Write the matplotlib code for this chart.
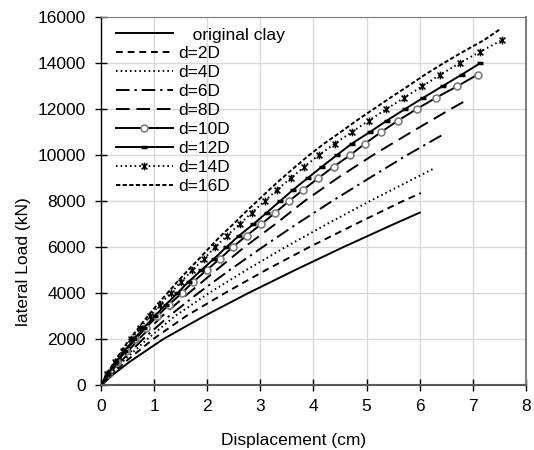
import matplotlib
matplotlib.use("Agg")
import matplotlib.pyplot as plt
from matplotlib.path import Path

plt.rcParams['font.family'] = ['Liberation Sans', 'DejaVu Sans']
plt.rcParams['font.size'] = 12

# load levels (kN) used for the marked curves
load_steps = [0, 500, 1000, 1500, 2000, 2500, 3000, 3500, 4000, 4500, 5000,
              5500, 6000, 6500, 7000, 7500, 8000, 8500, 9000, 9500, 10000,
              10500, 11000, 11500, 12000, 12500, 13000, 13500, 14000, 14500,
              15000, 15500]

load_orig = [0, 500, 1000, 2000, 3000, 4000, 5000, 6000, 7000, 7500]
disp_orig = [0, 0.25, 0.53, 1.17, 1.94, 2.77, 3.65, 4.56, 5.51, 6.00]

load_2d = [0, 1000, 2000, 3000, 4000, 5000, 6000, 7000, 8000, 8350]
disp_2d = [0, 0.45, 0.98, 1.60, 2.33, 3.10, 3.92, 4.79, 5.68, 6.02]

load_4d = [0, 1000, 2000, 3000, 4000, 5000, 6000, 7000, 8000, 9000, 9450]
disp_4d = [0, 0.40, 0.87, 1.39, 2.03, 2.73, 3.47, 4.25, 5.06, 5.91, 6.29]

load_6d = [0, 1000, 2000, 3000, 4000, 5000, 6000, 7000, 8000, 9000, 10000, 10950]
disp_6d = [0, 0.36, 0.79, 1.28, 1.83, 2.42, 3.04, 3.68, 4.35, 5.05, 5.76, 6.48]

load_8d = [0, 1000, 2000, 3000, 4000, 5000, 6000, 7000, 8000, 9000, 10000,
           11000, 12000, 12400]
disp_8d = [0, 0.33, 0.71, 1.15, 1.65, 2.17, 2.70, 3.28, 3.83, 4.45, 5.12,
           5.84, 6.58, 6.89]

disp_10d = [0, 0.14, 0.30, 0.47, 0.65, 0.85, 1.06, 1.28, 1.52, 1.74, 1.99,
            2.24, 2.48, 2.74, 3.02, 3.28, 3.54, 3.81, 4.09, 4.38, 4.69, 4.97,
            5.27, 5.59, 5.94, 6.31, 6.71, 7.09]
disp_12d = [0, 0.13, 0.28, 0.45, 0.62, 0.81, 1.01, 1.22, 1.44, 1.65, 1.89,
            2.13, 2.36, 2.60, 2.87, 3.12, 3.37, 3.62, 3.89, 4.16, 4.44, 4.72,
            5.06, 5.38, 5.72, 6.07, 6.43, 6.79, 7.14]
disp_14d = [0, 0.12, 0.26, 0.41, 0.57, 0.74, 0.92, 1.11, 1.31, 1.51, 1.72,
            1.94, 2.15, 2.37, 2.61, 2.84, 3.08, 3.32, 3.57, 3.83, 4.10, 4.40,
            4.72, 5.04, 5.37, 5.71, 6.05, 6.39, 6.75, 7.14, 7.55]
disp_16d = [0, 0.11, 0.25, 0.39, 0.54, 0.71, 0.88, 1.06, 1.25, 1.44, 1.64,
            1.85, 2.05, 2.26, 2.49, 2.71, 2.94, 3.17, 3.41, 3.66, 3.92, 4.20,
            4.51, 4.81, 5.13, 5.45, 5.78, 6.10, 6.45, 6.82, 7.21, 7.53]

x_ticks = [0, 1, 2, 3, 4, 5, 6, 7, 8]
y_ticks = [0, 2000, 4000, 6000, 8000, 10000, 12000, 14000, 16000]

# asterisk marker: an x with a vertical bar through it
star = Path([(-1, -1), (1, 1), (-1, 1), (1, -1), (0, -1.3), (0, 1.3)],
            [Path.MOVETO, Path.LINETO] * 3)

fig = plt.figure(figsize=(5.34, 4.5), dpi=100)
ax = fig.add_axes([0.189, 0.144, 0.796, 0.818])

lw = 1.4
ax.plot(disp_orig, load_orig, color='black', lw=lw, label='   original clay')
ax.plot(disp_2d, load_2d, color='black', lw=lw, ls=(0, (3.5, 2.5)), label='d=2D')
ax.plot(disp_4d, load_4d, color='black', lw=lw, ls=(0, (0.8, 1.6)), label='d=4D')
ax.plot(disp_6d, load_6d, color='black', lw=lw, ls=(0, (7, 2.5, 1.2, 2.5)), label='d=6D')
ax.plot(disp_8d, load_8d, color='black', lw=lw, ls=(0, (7, 3.5)), label='d=8D')
ax.plot(disp_10d, load_steps[:len(disp_10d)], color='black', lw=lw,
        marker='o', ms=5, mfc='white', mec='#7f7f7f', mew=1.2, label='d=10D')
ax.plot(disp_12d, load_steps[:len(disp_12d)], color='black', lw=lw,
        marker='_', ms=5, mew=2.5, mec='black', label='d=12D')
ax.plot(disp_14d, load_steps[:len(disp_14d)], color='black', lw=lw,
        ls=(0, (0.8, 1.6)), marker=star, ms=5.5, mfc='none', mec='black',
        mew=1.1, label='d=14D')
ax.plot(disp_16d, load_steps[:len(disp_16d)], color='black', lw=lw,
        ls=(0, (2.2, 1.2)), label='d=16D')

ax.set_xlim(0, 8)
ax.set_ylim(0, 16000)
ax.set_xticks(x_ticks)
ax.set_yticks(y_ticks)
ax.grid(True, color='#d9d9d9', lw=1)
ax.set_axisbelow(True)

ax.tick_params(axis='both', direction='inout', length=8, width=1,
               color='black', labelsize=12.5)
ax.tick_params(axis='x', pad=6)
ax.tick_params(axis='y', pad=7)

ax.spines['left'].set_color('black')
ax.spines['left'].set_linewidth(1)
ax.spines['bottom'].set_color('#595959')
ax.spines['bottom'].set_linewidth(1.5)
ax.spines['top'].set_color('#7f7f7f')
ax.spines['top'].set_linewidth(0.8)
ax.spines['right'].set_color('#7f7f7f')
ax.spines['right'].set_linewidth(1.5)

ax.set_xlabel('Displacement (cm)', fontsize=12.5)
ax.set_ylabel('lateral Load (kN)', fontsize=12.5)
ax.xaxis.set_label_coords(0.454, -0.149)
ax.xaxis.label.set_va('center')
ax.yaxis.set_label_coords(-0.181, 0.336)
ax.yaxis.label.set_va('center')

ax.legend(loc='upper left', bbox_to_anchor=(0.035, 0.972), frameon=False,
          fontsize=12.5, handlelength=3.3, handletextpad=0.3,
          labelspacing=0.215, borderaxespad=0, borderpad=0, numpoints=1)

fig.savefig('out.png', dpi=100)
